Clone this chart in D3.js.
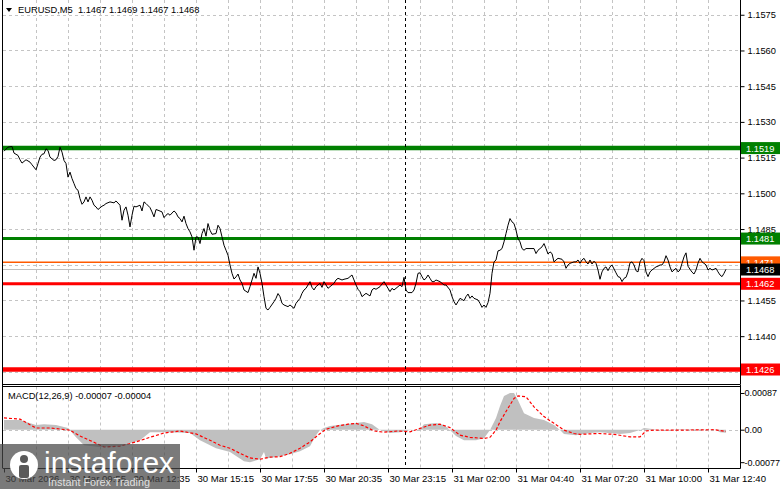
<!DOCTYPE html>
<html><head><meta charset="utf-8">
<script src="https://cdn.jsdelivr.net/npm/d3@7"></script>
<style>
body{margin:0;background:#fff;}
svg{display:block;}
text{font-family:"Liberation Sans",Arial,sans-serif;}
</style>
</head><body>
<svg id="c" width="781" height="489"></svg>
<script>
// ---------- DATA ----------
const symbolTitle = "EURUSD,M5  1.1467 1.1469 1.1467 1.1468";
const macdTitle = "MACD(12,26,9) -0.00007 -0.00004";

const priceBar = [0,2,4,5,7,8,9,11,13,14,16,17,18,19,20,21,22,23,25,26,27,28,29,30,31,32,33,34,35,36,37,38,39,40,41,42,43,44,45,46,47,49,50,51,53,55,56,58,59,60,61,62,63,64,65,66,68,69,70,71,73,74,75,76,77,79,80,81,82,83,85,86,87,88,89,90,91,92,93,94,95,96,97,98,99,100,101,102,103,104,106,107,108,109,110,111,112,113,114,115,116,117,118,119,120,122,123,124,125,126,127,128,129,130,131,132,133,135,136,137,138,139,140,142,143,144,145,146,148,149,150,151,152,153,154,155,156,157,158,159,160,161,162,163,165,166,167,169,170,172,173,174,175,176,177,178,179,180,181,183,184,185,186,188,189,190,191,192,193,194,195,197,198,199,200,201,202,204,205,206,207,208,209,210,211,212,213,214,215,216,218,219,220,221,223,224,225,226,227,228,230,231,232,233,234,235,237,238,239,240,241,242,243,244,245,246,247,248,249,250,251,252,253,254,255,256,257,258,259,260,261,263,265,266,267,268,269,270,271,272,273,274,275,276,277,279,280,281,282,283,285,286,287,288,289,290,291,292,293,294,295,296,297,298,299,300,301,302,303,304,306,307,308,309,310,311,312,313,314,315,316,317,318,319,320,321,322,323,324,326,327,328,329,330,331,332,333,334,335,336,337,338,339,340,341,342,343,344,345,346,347,348,349,350,351,352,353,354,355,356,357,358,359,360,361];
const priceClose = [1.15177,1.15194,1.15197,1.15169,1.15159,1.15141,1.15127,1.15141,1.15131,1.15120,1.15099,1.15125,1.15152,1.15164,1.15166,1.15187,1.15180,1.15152,1.15138,1.15141,1.15155,1.15194,1.15173,1.15138,1.15125,1.15068,1.15089,1.15062,1.15041,1.15020,1.15013,1.14978,1.14954,1.14964,1.14985,1.14964,1.14985,1.14971,1.14950,1.14943,1.14932,1.14946,1.14950,1.14957,1.14964,1.14960,1.14968,1.14950,1.14887,1.14929,1.14943,1.14908,1.14859,1.14908,1.14946,1.14943,1.14950,1.14926,1.14964,1.14957,1.14940,1.14922,1.14901,1.14932,1.14929,1.14922,1.14898,1.14908,1.14915,1.14908,1.14926,1.14918,1.14901,1.14894,1.14880,1.14904,1.14873,1.14852,1.14838,1.14817,1.14761,1.14817,1.14816,1.14789,1.14831,1.14852,1.14820,1.14873,1.14845,1.14828,1.14831,1.14866,1.14852,1.14817,1.14782,1.14761,1.14740,1.14699,1.14664,1.14640,1.14649,1.14661,1.14636,1.14622,1.14594,1.14583,1.14608,1.14636,1.14664,1.14643,1.14691,1.14664,1.14622,1.14566,1.14517,1.14510,1.14521,1.14545,1.14559,1.14579,1.14566,1.14538,1.14531,1.14524,1.14531,1.14524,1.14517,1.14538,1.14559,1.14580,1.14594,1.14601,1.14615,1.14629,1.14605,1.14594,1.14608,1.14615,1.14622,1.14605,1.14629,1.14615,1.14601,1.14608,1.14622,1.14636,1.14643,1.14636,1.14639,1.14643,1.14650,1.14657,1.14636,1.14615,1.14597,1.14587,1.14566,1.14573,1.14580,1.14569,1.14594,1.14601,1.14597,1.14608,1.14619,1.14629,1.14615,1.14601,1.14587,1.14601,1.14594,1.14608,1.14615,1.14608,1.14647,1.14594,1.14583,1.14583,1.14594,1.14622,1.14664,1.14666,1.14650,1.14636,1.14643,1.14657,1.14643,1.14629,1.14629,1.14636,1.14629,1.14622,1.14615,1.14615,1.14594,1.14566,1.14545,1.14531,1.14545,1.14559,1.14549,1.14566,1.14577,1.14559,1.14569,1.14559,1.14552,1.14538,1.14521,1.14531,1.14521,1.14541,1.14580,1.14664,1.14712,1.14720,1.14758,1.14761,1.14768,1.14796,1.14831,1.14866,1.14894,1.14880,1.14873,1.14845,1.14810,1.14796,1.14768,1.14761,1.14768,1.14768,1.14768,1.14747,1.14761,1.14768,1.14775,1.14789,1.14768,1.14745,1.14754,1.14747,1.14712,1.14720,1.14727,1.14723,1.14712,1.14685,1.14699,1.14706,1.14712,1.14712,1.14720,1.14706,1.14720,1.14727,1.14712,1.14703,1.14720,1.14703,1.14715,1.14706,1.14678,1.14639,1.14670,1.14685,1.14691,1.14675,1.14691,1.14699,1.14666,1.14650,1.14647,1.14629,1.14643,1.14647,1.14670,1.14708,1.14712,1.14699,1.14675,1.14670,1.14712,1.14727,1.14717,1.14670,1.14650,1.14670,1.14678,1.14691,1.14694,1.14699,1.14699,1.14712,1.14738,1.14720,1.14691,1.14670,1.14678,1.14685,1.14670,1.14678,1.14706,1.14733,1.14750,1.14694,1.14681,1.14669,1.14661,1.14678,1.14707,1.14727,1.14712,1.14706,1.14699,1.14678,1.14685,1.14678,1.14681,1.14685,1.14670,1.14657,1.14650,1.14664,1.14681];

const macdBar = [0,8,16,20,26,32,36,40,48,58,68,73,83,93,98,106,113,120,123,128,130,131,136,143,148,153,156,158,160,163,170,176,180,184,188,193,198,203,208,210,216,220,223,226,230,236,240,243,246,248,250,253,255,257,260,265,270,275,278,280,286,293,298,308,313,318,320,328,338,348,356,358,361];
const macdMain = [0.00023,0.00023,0.00011,0.00013,0.00011,0.00004,-0.00018,-0.00037,-0.00041,-0.00039,-0.00025,-0.00006,-0.00006,-0.00008,-0.00025,-0.00044,-0.00053,-0.00075,-0.00077,-0.00070,-0.00053,-0.00068,-0.00065,-0.00058,-0.00051,-0.00039,-0.00013,-0.00001,0.00004,0.00009,0.00013,0.00016,0.00018,0.00013,-0.00001,-0.00008,-0.00006,-0.00001,0.00001,0.00013,0.00016,0.00011,-0.00001,-0.00015,-0.00025,-0.00025,-0.00020,-0.00001,0.00028,0.00056,0.00080,0.00087,0.00087,0.00070,0.00039,0.00028,0.00023,0.00011,-0.00001,-0.00010,-0.00013,-0.00008,-0.00006,-0.00010,-0.00008,-0.00001,0.00004,-0.00001,0.00001,0.00001,-0.00001,-0.00006,-0.00007];

const signalBar = [0,8,16,23,33,38,46,50,58,66,73,80,88,96,103,108,113,118,123,128,133,138,143,148,153,157,161,167,172,176,180,185,190,197,203,208,213,218,223,228,233,240,243,246,248,252,255,257,261,265,270,275,280,285,288,297,305,313,318,321,325,338,355,361];
const signalVal = [0.00028,0.00025,0.00004,0.00004,-0.00001,-0.00015,-0.00032,-0.00041,-0.00039,-0.00029,-0.00018,-0.00008,-0.00003,-0.00010,-0.00025,-0.00037,-0.00044,-0.00056,-0.00067,-0.00070,-0.00065,-0.00064,-0.00056,-0.00044,-0.00029,-0.00013,0.00001,0.00009,0.00013,0.00015,0.00009,-0.00003,-0.00006,-0.00003,-0.00005,0.00003,0.00011,0.00013,0.00005,-0.00013,-0.00018,-0.00021,-0.00018,-0.00001,0.00019,0.00051,0.00074,0.00080,0.00078,0.00054,0.00031,0.00015,-0.00001,-0.00009,-0.00011,-0.00009,-0.00011,-0.00017,-0.00017,-0.00003,-0.00001,-0.00001,0.00000,-0.00004];

const priceTicks = [1.1575,1.1560,1.1545,1.1530,1.1515,1.1500,1.1485,1.1470,1.1455,1.1440,1.1425];
const macdTicks = [0.00087,0,-0.00077];
const macdTickLabels = ["0.00087","0.00","-0.00077"];
const timeLabels = ["30 Mar 2026","30 Mar 09:55","30 Mar 12:35","30 Mar 15:15","30 Mar 17:55","30 Mar 20:35","30 Mar 23:15","31 Mar 02:00","31 Mar 04:40","31 Mar 07:20","31 Mar 10:00","31 Mar 12:40"];
const timeLabelBar = [0,32,64,96,128,160,192,224,256,288,320,352];
const gridBar = [16,32,48,64,80,96,112,128,144,160,176,192,208,224,240,256,272,288,304,320,336,352];
const separatorBar = 200.5;

const levelValue = [1.1519,1.1481,1.1471,1.1462,1.1426];
const levelColor = ["#008000","#008000","#ff5a00","#ff0000","#ff0000"];
const levelWidth = [4.5,3,1.5,3,4.5];
const lastPrice = 1.1468;

// ---------- LAYOUT ----------
const svg = d3.select("#c");
const plotL = 3, plotR = 740;
const mainTop = 0, mainBot = 384.5, macdTop = 386.5, macdBot = 468.5;
const fs = 9.3;

const x = d3.scaleLinear().domain([0,368]).range([4,740]);
const y = d3.scaleLinear().domain([1.14197,1.15812]).range([mainBot,mainTop]);
const ym = d3.scaleLinear().domain([-0.00092,0.001024]).range([macdBot,macdTop]);

const defs = svg.append("defs");
defs.append("clipPath").attr("id","clipMain").append("rect")
  .attr("x",plotL).attr("y",mainTop).attr("width",plotR-plotL).attr("height",mainBot-mainTop);
defs.append("clipPath").attr("id","clipMacd").append("rect")
  .attr("x",plotL).attr("y",macdTop).attr("width",plotR-plotL).attr("height",macdBot-macdTop);

const grid = "#c4c4c4";
const gMain = svg.append("g").attr("clip-path","url(#clipMain)");
gMain.selectAll("line.hg").data(priceTicks).join("line")
  .attr("x1",plotL).attr("x2",plotR).attr("y1",d=>Math.round(y(d))+0.5).attr("y2",d=>Math.round(y(d))+0.5)
  .attr("stroke",grid).attr("stroke-dasharray","3,3");
gMain.selectAll("line.vg").data(gridBar).join("line")
  .attr("x1",d=>Math.round(x(d))+0.5).attr("x2",d=>Math.round(x(d))+0.5).attr("y1",mainTop).attr("y2",mainBot)
  .attr("stroke",grid).attr("stroke-dasharray","3,3");
const gM = svg.append("g").attr("clip-path","url(#clipMacd)");
gM.selectAll("line.vg").data(gridBar).join("line")
  .attr("x1",d=>Math.round(x(d))+0.5).attr("x2",d=>Math.round(x(d))+0.5).attr("y1",macdTop).attr("y2",macdBot)
  .attr("stroke",grid).attr("stroke-dasharray","3,3");
gM.append("line").attr("x1",plotL).attr("x2",plotR).attr("y1",Math.round(ym(0))+0.5).attr("y2",Math.round(ym(0))+0.5)
  .attr("stroke",grid).attr("stroke-dasharray","3,3");

gMain.append("line").attr("x1",plotL).attr("x2",plotR).attr("y1",y(lastPrice)).attr("y2",y(lastPrice))
  .attr("stroke","#c0c0c0").attr("stroke-width",1);
gMain.selectAll("line.lv").data(levelValue).join("line")
  .attr("x1",plotL).attr("x2",plotR).attr("y1",d=>y(d)).attr("y2",d=>y(d))
  .attr("stroke",(d,i)=>levelColor[i]).attr("stroke-width",(d,i)=>levelWidth[i]);

const pts = priceBar.map((b,i)=>[b,priceClose[i]]);
gMain.append("path").datum(pts)
  .attr("d",d3.line().x(d=>x(d[0])).y(d=>y(d[1])))
  .attr("fill","none").attr("stroke","#000").attr("stroke-width",1);

const hist = macdBar.map((b,i)=>[b,macdMain[i]]);
gM.append("path").datum(hist)
  .attr("d",d3.area().x(d=>x(d[0])).y0(ym(0)).y1(d=>ym(d[1])))
  .attr("fill","#c0c0c0");
const sig = signalBar.map((b,i)=>[b,signalVal[i]]);
gM.append("path").datum(sig)
  .attr("d",d3.line().x(d=>x(d[0])).y(d=>ym(d[1])))
  .attr("fill","none").attr("stroke","#ff0000").attr("stroke-width",1.2).attr("stroke-dasharray","3,2");

svg.append("line").attr("x1",Math.round(x(separatorBar))+0.5).attr("x2",Math.round(x(separatorBar))+0.5)
  .attr("y1",0).attr("y2",macdBot).attr("stroke","#000").attr("stroke-dasharray","3,3");

svg.append("line").attr("x1",plotL-0.5).attr("x2",plotL-0.5).attr("y1",0).attr("y2",macdBot).attr("stroke","#000");
svg.append("line").attr("x1",plotL).attr("x2",plotR).attr("y1",mainBot).attr("y2",mainBot).attr("stroke","#000");
svg.append("line").attr("x1",plotL).attr("x2",plotR).attr("y1",macdTop).attr("y2",macdTop).attr("stroke","#000");

const axR = svg.append("g").attr("transform",`translate(${plotR+0.5},0)`)
  .call(d3.axisRight(y).tickValues(priceTicks).tickSize(4).tickPadding(3).tickFormat(d3.format(".4f")));
axR.select(".domain").attr("d",`M0,0V${mainBot}`).attr("stroke","#000");
axR.selectAll("text").attr("font-size",fs).attr("font-family","Liberation Sans").attr("fill","#000");

const axM = svg.append("g").attr("transform",`translate(${plotR+0.5},0)`)
  .call(d3.axisRight(ym).tickValues(macdTicks).tickSize(4).tickPadding(0).tickFormat((d,i)=>macdTickLabels[i]));
axM.select(".domain").attr("d",`M0,${macdTop-2}V${macdBot}`).attr("stroke","#000");
axM.selectAll("text").attr("font-size",9).attr("font-family","Liberation Sans").attr("fill","#000");

const axB = svg.append("g").attr("transform",`translate(0,${macdBot})`)
  .call(d3.axisBottom(x).tickValues(timeLabelBar).tickSize(4).tickPadding(3).tickFormat((d,i)=>timeLabels[i]));
axB.select(".domain").attr("d",`M${plotL},0H${plotR+0.5}`).attr("stroke","#000");
axB.selectAll("text").attr("font-size",fs+0.3).attr("font-family","Liberation Sans").attr("fill","#000")
  .attr("text-anchor","start").attr("dx",1);

const badgeData = [
  {v:levelValue[0], c:levelColor[0], t:"#ffffff"},
  {v:levelValue[1], c:levelColor[1], t:"#ffffff"},
  {v:levelValue[2], c:"#ff5a00", t:"#ffffff"},
  {v:lastPrice, c:"#000000", t:"#ffffff"},
  {v:levelValue[3], c:levelColor[3], t:"#ffffff"},
  {v:levelValue[4], c:levelColor[4], t:"#ffffff"}
];
const gb = svg.append("g");
badgeData.forEach(b=>{
  const cy = y(b.v);
  gb.append("rect").attr("x",plotR+1).attr("y",cy-6).attr("width",39).attr("height",12).attr("fill",b.c);
  gb.append("text").attr("x",plotR+6).attr("y",cy+3.5).attr("font-size",fs).attr("fill",b.t).text(d3.format(".4f")(b.v));
});

svg.append("path").attr("d","M6,8 L12,8 L9,12 Z").attr("fill","#000");
svg.append("text").attr("x",18).attr("y",13).attr("font-size",fs).attr("fill","#000").attr("xml:space","preserve").text(symbolTitle);
svg.append("text").attr("x",8).attr("y",399).attr("font-size",fs).attr("fill","#000").text(macdTitle);

const lg = svg.append("g");
lg.append("rect").attr("x",0).attr("y",444).attr("width",180).attr("height",45).attr("fill","rgba(70,70,70,0.72)");
lg.append("circle").attr("cx",24).attr("cy",465).attr("r",14).attr("fill","#fff");
lg.append("circle").attr("cx",24).attr("cy",459).attr("r",4).attr("fill","rgba(90,90,90,1)");
lg.append("rect").attr("x",19).attr("y",465).attr("width",10).attr("height",13).attr("rx",2).attr("fill","rgba(90,90,90,1)");
lg.append("text").attr("x",44).attr("y",473).attr("font-size",30).attr("fill","#fff").text("instaforex");
lg.append("text").attr("x",48).attr("y",486).attr("font-size",10.8).attr("fill","#e0e0e0").text("Instant Forex Trading");
</script>
</body></html>
